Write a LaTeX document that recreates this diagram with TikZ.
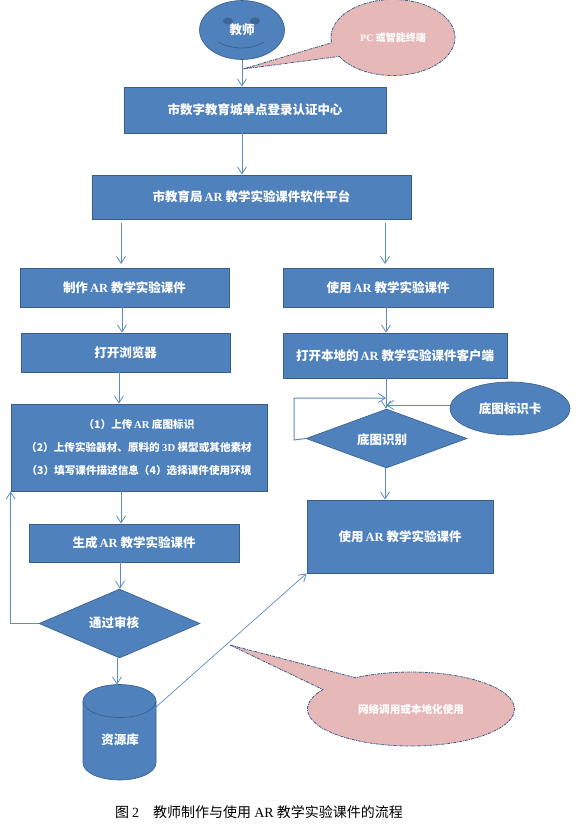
\documentclass[tikz,border=0pt]{standalone}
\usepackage{fontspec}
\setmainfont{Liberation Serif}
\newfontfamily\cjk{Noto Sans CJK SC}
\usetikzlibrary{arrows.meta,shapes.geometric,shapes.callouts}
\newcommand{\lat}[1]{{\rmfamily\bfseries #1}}
\definecolor{boxfill}{HTML}{4F81BD}
\definecolor{boxline}{HTML}{385D8A}
\definecolor{flowline}{HTML}{5B8BC6}
\definecolor{pinkfill}{HTML}{E6B8B7}
\tikzset{
  flowbox/.style={draw=boxline,fill=boxfill,line width=0.8pt,inner sep=0pt,text=white,align=center,font=\cjk\bfseries\fontsize{12.5}{14}\selectfont},
  flowdia/.style={diamond,draw=boxline,fill=boxfill,line width=0.6pt,inner sep=0pt},
  flowell/.style={ellipse,draw=boxline,fill=boxfill,line width=0.6pt,inner sep=0pt,text=white,font=\cjk\bfseries\fontsize{12.5}{14}\selectfont},
  whitelabel/.style={text=white,inner sep=0pt,font=\cjk\bfseries\fontsize{12.5}{14}\selectfont},
  flow/.style={draw=flowline,line width=1pt,-{Straight Barb[length=7pt,width=9pt,line width=0.8pt]}},
  thinflow/.style={flow,line width=0.7pt},
  bubble/.style={ellipse callout,draw=boxline,fill=pinkfill,line width=0.8pt,dash pattern=on 3pt off 1pt on 1pt off 1pt,inner sep=0pt,text=white,font=\cjk\bfseries\fontsize{10}{12}\selectfont},
  tank/.style={draw=boxline,fill=boxfill,line width=0.6pt},
}
\begin{document}
\begin{tikzpicture}[x=1pt,y=-1pt]
\useasboundingbox (0,0) rectangle (581,831);
% teacher face
\node[flowell,minimum width=85pt,minimum height=59pt] (face) at (242,30) {教师};
\path[fill=boxline,fill opacity=.75] (228,21) ellipse [x radius=5,y radius=3.5] (255,21) ellipse [x radius=5,y radius=3.5];
\draw[boxline,line width=0.7pt] (218.5,42) .. controls (232,50) and (252,50) .. (264,42);
% boxes
\node[flowbox,minimum width=262pt,minimum height=46pt] (b1) at (255,110) {市数字教育城单点登录认证中心};
\node[flowbox,minimum width=319pt,minimum height=44pt] (b2) at (251.5,197) {市教育局\,\lat{AR} 教学实验课件软件平台};
\node[flowbox,minimum width=209pt,minimum height=39pt] (b3) at (124.5,287.5) {制作\,\lat{AR} 教学实验课件};
\node[flowbox,minimum width=209pt,minimum height=39pt] (b4) at (125.5,352.5) {打开浏览器};
\node[flowbox,minimum width=256pt,minimum height=87pt,font=\cjk\bfseries\fontsize{10.6}{23}\selectfont] (b5) at (139,447.5) {（1）上传\,\lat{AR} 底图标识\\（2）上传实验器材、原料的 \lat{3D} 模型或其他素材\\（3）填写课件描述信息（4）选择课件使用环境};
\node[flowbox,minimum width=210pt,minimum height=38pt] (b6) at (134,543) {生成\,\lat{AR} 教学实验课件};
\node[flowdia,minimum width=161pt,minimum height=69pt,aspect=2.33] (d1) at (119.5,623.5) {};
\node[whitelabel] (d1t) at (114,623) {通过审核};
% resource tank
\coordinate (cyl) at (119.5,684.5);
\coordinate (cylr) at (156,707);
\path[tank] (83,701) arc [start angle=180,end angle=360,x radius=36.5,y radius=16.5] -- (156,763) arc [start angle=0,end angle=180,x radius=36.5,y radius=17] -- cycle;
\draw[boxline,line width=0.6pt] (83,701) arc [start angle=180,end angle=0,x radius=36.5,y radius=16.5];
\node[whitelabel] (cylt) at (120,740) {资源库};
\node[flowbox,minimum width=210pt,minimum height=39pt] (b7) at (388,287.5) {使用\,\lat{AR} 教学实验课件};
\node[flowbox,minimum width=224pt,minimum height=45pt] (b8) at (395,355.5) {打开本地的\,\lat{AR} 教学实验课件客户端};
\node[flowdia,minimum width=161pt,minimum height=59pt,aspect=2.73] (d2) at (386.5,438.5) {};
\node[whitelabel] (d2t) at (382,440) {底图识别};
\node[flowell,minimum width=120pt,minimum height=53pt] (card) at (510,408.5) {底图标识卡};
\node[flowbox,minimum width=186pt,minimum height=73pt] (b9) at (400,536.5) {使用\,\lat{AR} 教学实验课件};
% callouts
\node[bubble,minimum width=124pt,minimum height=76pt,callout absolute pointer={(243,69)},callout pointer arc=22] (c1) at (393,37.5) {\lat{PC} 或智能终端};
\node[bubble,minimum width=207pt,minimum height=74pt,callout absolute pointer={(230,645)},callout pointer arc=26,font=\cjk\bfseries\fontsize{10.6}{12}\selectfont] (c2) at (411,709) {网络调用或本地化使用};
% caption
\node[inner sep=0pt,font=\cjk\fontsize{14}{16}\selectfont] (cap) at (259,812) {图 {\rmfamily 2}\quad 教师制作与使用 {\rmfamily AR} 教学实验课件的流程};
% free ends
\coordinate (b2l) at (121,223);
\coordinate (b2r) at (385,223);
\coordinate (b3t) at (121,264);
\coordinate (b7t) at (385,264);
\coordinate (loopa) at (294,440);
\coordinate (loopb) at (294,398);
\coordinate (joinb) at (386,398);
\coordinate (joinc) at (386,405);
% connectors
\draw[flow] (face.south) -- (b1.north -| face.south);
\draw[flow] (b1.south -| face.south) -- (b2.north -| face.south);
\draw[flow] (b2l) -- (b3t);
\draw[flow] (b2r) -- (b7t);
\draw[flow] (b3.south -| 122,0) -- (b4.north -| 122,0);
\draw[flow] (b4.south -| 119,0) -- (b5.north -| 119,0);
\draw[flow] (b5.south -| 121,0) -- (b6.north -| 121,0);
\draw[flow] (b6.south -| 120,0) -- (d1.north -| 120,0);
\draw[flow] (d1.west) -- (d1.west -| b5.west) -- (b5.south west);
\draw[flow] (d1.south -| 117,0) -- (cyl -| 117,0);
\draw[thinflow] (cylr) -- (b9.south west);
\draw[flow] (b7.south -| 386,0) -- (b8.north -| 386,0);
\draw[flow] (b8.south -| 386,0) -- (d2.north -| 386,0);
\draw[flow] (d2.west) -- (loopa) -- (loopb) -- (joinb);
\draw[flow] (card.west |- joinc) -- (joinc);
\draw[flow] (d2.south -| 385,0) -- (b9.north -| 385,0);
\end{tikzpicture}
\end{document}
